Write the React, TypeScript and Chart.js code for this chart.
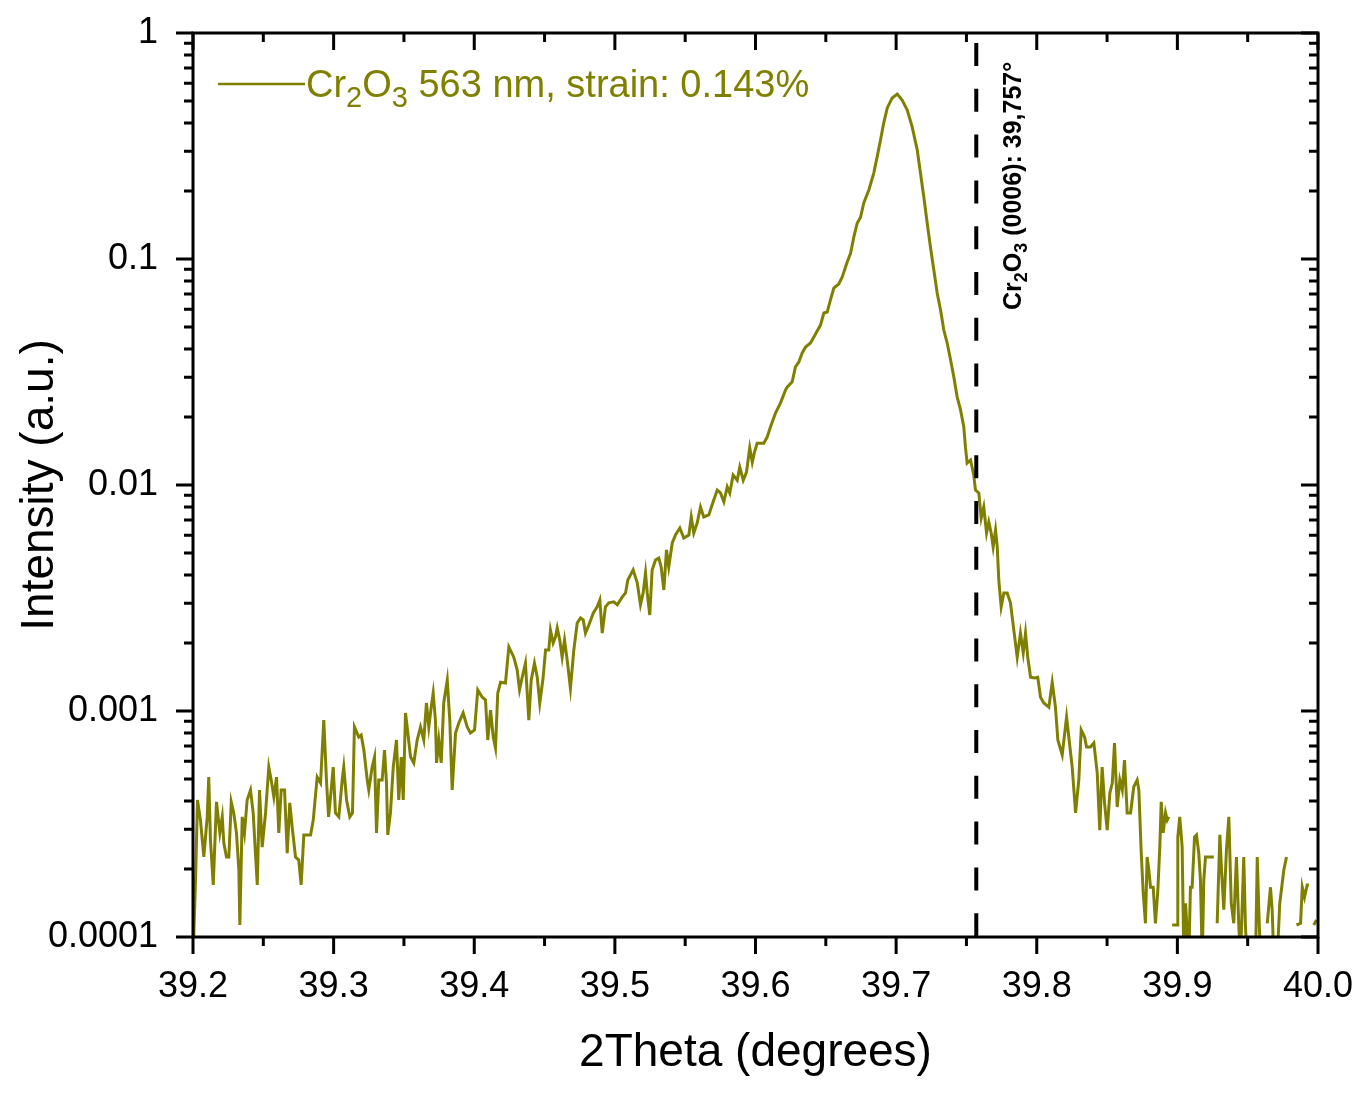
import React, { useEffect, useRef } from 'react';
import { Chart, registerables } from 'chart.js';

Chart.register(...registerables);

const FONT = '"Liberation Sans", Arial, sans-serif';
const OLIVE = '#808000';

// Axis ticks
const xTickValues = [39.2, 39.3, 39.4, 39.5, 39.6, 39.7, 39.8, 39.9, 40.0];
const xTickLabels = ['39.2', '39.3', '39.4', '39.5', '39.6', '39.7', '39.8', '39.9', '40.0'];
const yTickValues = [0.0001, 0.001, 0.01, 0.1, 1];
const yTickLabels = ['0.0001', '0.001', '0.01', '0.1', '1'];

// Titles / labels
const xTitle = '2Theta (degrees)';
const yTitle = 'Intensity (a.u.)';
const seriesRuns = [
  { t: 'Cr', sub: false },
  { t: '2', sub: true },
  { t: 'O', sub: false },
  { t: '3', sub: true },
  { t: ' 563 nm, strain: 0.143%', sub: false },
];
const referenceAngle = 39.757;
const referenceRuns = [
  { t: 'Cr', sub: false },
  { t: '2', sub: true },
  { t: 'O', sub: false },
  { t: '3', sub: true },
  { t: ' (0006): 39,757°', sub: false },
];

// Scan data: [2theta, intensity]; null = zero counts (gap on log axis)
const tailLeft: [number, number | null][] = [
  [39.2000, 9.0e-5], [39.2006, 1.04e-4], [39.2018, 1.79e-4], [39.2032, 4.04e-4], [39.2053, 3.29e-4],
  [39.2077, 2.26e-4], [39.2101, 3.40e-4], [39.2112, 5.10e-4], [39.2124, 2.69e-4], [39.2144, 1.70e-4],
  [39.2167, 3.96e-4], [39.2191, 2.89e-4], [39.2208, 3.40e-4], [39.2219, 2.61e-4], [39.2238, 2.26e-4],
  [39.2255, 2.26e-4], [39.2272, 3.96e-4], [39.2290, 3.54e-4], [39.2309, 2.89e-4], [39.2326, 1.98e-4],
  [39.2333, 1.13e-4], [39.2350, 3.40e-4], [39.2366, 2.89e-4], [39.2385, 4.04e-4], [39.2409, 4.47e-4],
  [39.2428, 3.54e-4], [39.2444, 2.35e-4], [39.2457, 1.70e-4], [39.2473, 4.47e-4], [39.2492, 2.50e-4],
  [39.2516, 3.54e-4], [39.2539, 5.65e-4], [39.2556, 4.95e-4], [39.2575, 4.16e-4], [39.2594, 5.10e-4],
  [39.2610, 2.89e-4], [39.2627, 4.47e-4], [39.2651, 4.47e-4], [39.2670, 2.35e-4], [39.2688, 3.92e-4],
  [39.2705, 3.07e-4], [39.2729, 2.26e-4], [39.2752, 2.19e-4], [39.2769, 1.70e-4], [39.2788, 2.83e-4],
  [39.2836, 2.83e-4], [39.2855, 3.29e-4], [39.2883, 5.10e-4], [39.2907, 4.80e-4], [39.2930, 9.12e-4],
  [39.2949, 4.95e-4], [39.2964, 3.40e-4], [39.2978, 4.16e-4], [39.2997, 5.65e-4], [39.3013, 3.54e-4],
  [39.3037, 3.40e-4], [39.3061, 4.95e-4], [39.3072, 5.65e-4], [39.3092, 4.04e-4], [39.3115, 3.40e-4],
  [39.3134, 3.54e-4], [39.3148, 8.50e-4], [39.3179, 7.67e-4], [39.3196, 7.83e-4], [39.3215, 6.72e-4],
  [39.3239, 4.95e-4], [39.3250, 4.47e-4], [39.3274, 5.65e-4], [39.3291, 6.26e-4], [39.3305, 2.89e-4],
  [39.3321, 4.95e-4], [39.3345, 4.95e-4], [39.3362, 6.72e-4], [39.3376, 4.80e-4], [39.3385, 2.83e-4],
  [39.3404, 3.54e-4], [39.3424, 5.65e-4], [39.3447, 7.44e-4], [39.3463, 4.04e-4], [39.3481, 6.26e-4],
  [39.3495, 4.04e-4], [39.3511, 9.80e-4],
];

const riseLow: [number, number | null][] = [
  [39.3523, 8.50e-4], [39.3547, 6.26e-4], [39.3570, 5.89e-4], [39.3594, 7.44e-4], [39.3618, 8.50e-4],
  [39.3641, 7.44e-4], [39.3660, 1.085e-3], [39.3677, 8.50e-4], [39.3694, 1.04e-3], [39.3708, 1.20e-3],
  [39.3724, 9.12e-4], [39.3732, 5.89e-4], [39.3748, 7.44e-4], [39.3765, 5.89e-4], [39.3783, 1.085e-3],
  [39.3808, 1.37e-3], [39.3826, 9.12e-4], [39.3843, 4.47e-4], [39.3867, 7.99e-4], [39.3890, 8.85e-4],
  [39.3921, 9.80e-4], [39.3950, 8.50e-4], [39.3973, 7.99e-4], [39.4002, 8.24e-4], [39.4025, 1.24e-3],
  [39.4057, 1.15e-3], [39.4080, 1.12e-3], [39.4096, 7.44e-4], [39.4116, 1.01e-3], [39.4135, 7.67e-4],
  [39.4151, 6.86e-4], [39.4167, 1.20e-3], [39.4187, 1.34e-3], [39.4222, 1.33e-3], [39.4246, 1.92e-3],
  [39.4281, 1.73e-3], [39.4305, 1.52e-3], [39.4322, 1.24e-3], [39.4341, 1.41e-3], [39.4364, 1.63e-3],
  [39.4388, 9.12e-4], [39.4405, 1.37e-3], [39.4428, 1.63e-3], [39.4448, 1.41e-3], [39.4466, 1.085e-3],
  [39.4490, 1.41e-3], [39.4507, 1.86e-3], [39.4530, 1.86e-3], [39.4542, 2.28e-3], [39.4561, 2.00e-3],
  [39.4578, 2.13e-3], [39.4590, 2.33e-3], [39.4608, 2.06e-3], [39.4625, 1.73e-3], [39.4642, 2.06e-3],
  [39.4661, 1.68e-3], [39.4684, 1.26e-3], [39.4708, 1.86e-3], [39.4732, 2.45e-3], [39.4756, 2.58e-3],
  [39.4775, 2.53e-3], [39.4791, 2.21e-3], [39.4815, 2.40e-3], [39.4846, 2.71e-3], [39.4874, 2.89e-3],
  [39.4893, 3.10e-3],
];

const riseHigh: [number, number | null][] = [
  [39.4910, 2.21e-3], [39.4933, 2.89e-3], [39.4957, 3.01e-3], [39.4992, 3.04e-3], [39.5017, 2.95e-3],
  [39.5052, 3.19e-3], [39.5076, 3.33e-3], [39.5092, 3.80e-3], [39.5130, 4.21e-3], [39.5159, 3.69e-3],
  [39.5182, 2.95e-3], [39.5201, 3.33e-3], [39.5218, 4.08e-3], [39.5230, 3.33e-3], [39.5248, 2.66e-3],
  [39.5265, 4.21e-3], [39.5289, 4.66e-3], [39.5312, 4.75e-3], [39.5329, 4.34e-3], [39.5348, 3.43e-3],
  [39.5367, 5.16e-3], [39.5383, 4.34e-3], [39.5408, 5.54e-3], [39.5431, 6.01e-3], [39.5462, 6.45e-3],
  [39.5490, 5.83e-3], [39.5526, 6.01e-3], [39.5543, 7.22e-3], [39.5561, 6.13e-3], [39.5585, 6.79e-3],
  [39.5609, 7.99e-3], [39.5632, 7.22e-3], [39.5668, 7.37e-3], [39.5703, 8.59e-3], [39.5728, 9.50e-3],
  [39.5751, 9.22e-3], [39.5775, 8.42e-3], [39.5799, 9.80e-3], [39.5817, 9.22e-3], [39.5841, 1.107e-2],
  [39.5870, 1.05e-2], [39.5888, 1.20e-2], [39.5913, 1.05e-2], [39.5936, 1.14e-2], [39.5959, 1.46e-2],
  [39.5977, 1.26e-2], [39.5993, 1.40e-2], [39.6012, 1.53e-2], [39.6059, 1.53e-2], [39.6083, 1.63e-2],
  [39.6107, 1.81e-2], [39.6142, 2.08e-2], [39.6178, 2.31e-2], [39.6213, 2.63e-2],
];

const peak: [number, number | null][] = [
  [39.6225, 2.71e-2], [39.6261, 2.86e-2], [39.6284, 3.33e-2], [39.6308, 3.50e-2], [39.6332, 3.84e-2],
  [39.6356, 4.08e-2], [39.6391, 4.25e-2], [39.6415, 4.52e-2], [39.6462, 5.10e-2], [39.6486, 5.77e-2],
  [39.6510, 5.83e-2], [39.6533, 6.59e-2], [39.6557, 7.44e-2], [39.6592, 7.75e-2], [39.6617, 8.33e-2],
  [39.6652, 9.70e-2], [39.6676, 0.106], [39.6699, 0.125], [39.6723, 0.144], [39.6747, 0.153],
  [39.6770, 0.177], [39.6806, 0.202], [39.6841, 0.240], [39.6865, 0.283], [39.6889, 0.336],
  [39.6912, 0.400], [39.6937, 0.466], [39.6972, 0.516], [39.7008, 0.537], [39.7043, 0.505],
  [39.7079, 0.456], [39.7114, 0.384], [39.7150, 0.304], [39.7173, 0.240], [39.7197, 0.188],
  [39.7221, 0.144], [39.7244, 0.113], [39.7268, 8.94e-2], [39.7292, 7.07e-2], [39.7316, 5.95e-2],
  [39.7339, 4.85e-2], [39.7363, 4.25e-2], [39.7387, 3.58e-2], [39.7410, 3.01e-2], [39.7434, 2.45e-2],
  [39.7458, 2.15e-2], [39.7481, 1.81e-2], [39.7493, 1.47e-2], [39.7505, 1.25e-2], [39.7529, 1.29e-2],
];

const tailRight: [number, number | null][] = [
  [39.7552, 1.107e-2], [39.7564, 9.50e-3], [39.7588, 9.22e-3], [39.7605, 7.14e-3], [39.7623, 7.99e-3],
  [39.7643, 6.13e-3], [39.7659, 6.86e-3], [39.7676, 6.13e-3], [39.7690, 5.32e-3], [39.7707, 6.32e-3],
  [39.7719, 5.32e-3], [39.7730, 3.80e-3], [39.7747, 2.89e-3], [39.7766, 3.33e-3], [39.7790, 3.33e-3],
  [39.7813, 3.01e-3], [39.7837, 2.28e-3], [39.7861, 1.73e-3], [39.7884, 2.21e-3], [39.7904, 1.81e-3],
  [39.7920, 2.21e-3], [39.7936, 1.73e-3], [39.7956, 1.41e-3], [39.7984, 1.40e-3], [39.8007, 1.41e-3],
  [39.8027, 1.15e-3], [39.8050, 1.085e-3], [39.8086, 1.04e-3], [39.8110, 1.34e-3], [39.8133, 1.04e-3],
  [39.8150, 7.44e-4], [39.8181, 6.39e-4], [39.8212, 9.41e-4], [39.8228, 7.67e-4], [39.8252, 5.65e-4],
  [39.8276, 3.54e-4], [39.8299, 4.95e-4], [39.8316, 8.24e-4], [39.8340, 7.67e-4], [39.8354, 6.93e-4],
  [39.8382, 6.93e-4], [39.8406, 7.22e-4], [39.8430, 5.32e-4], [39.8448, 2.97e-4], [39.8465, 5.65e-4],
  [39.8482, 3.92e-4], [39.8501, 2.97e-4], [39.8520, 4.34e-4], [39.8537, 4.80e-4], [39.8553, 7.22e-4],
  [39.8572, 3.76e-4], [39.8591, 4.95e-4], [39.8608, 4.47e-4], [39.8624, 6.07e-4], [39.8643, 3.54e-4],
  [39.8667, 3.54e-4], [39.8690, 4.62e-4], [39.8714, 4.95e-4], [39.8726, 4.47e-4],
];

const noiseFloor: [number, number | null][] = [
  [39.8743, 2.35e-4], [39.8757, 1.57e-4], [39.8773, 1.15e-4], [39.8785, 2.26e-4], [39.8797, 1.98e-4],
  [39.8809, 1.66e-4], [39.8828, 1.66e-4], [39.8844, 1.15e-4], [39.8861, 1.61e-4], [39.8875, 2.50e-4],
  [39.8885, 3.96e-4], [39.8899, 2.89e-4], [39.8916, 3.54e-4], [39.8928, 3.29e-4], [39.8939, 3.40e-4],
  [39.8955, null], [39.8963, 1.13e-4], [39.8999, 1.13e-4], [39.9003, 2.77e-4], [39.9017, 3.40e-4],
  [39.9034, 2.50e-4], [39.9046, 8.0e-5], [39.9058, 1.41e-4], [39.9081, 8.0e-5], [39.9093, 1.66e-4],
  [39.9105, 1.66e-4], [39.9122, 2.77e-4], [39.9136, 2.83e-4], [39.9152, 2.35e-4], [39.9164, 1.79e-4],
  [39.9177, 8.0e-5], [39.9188, 1.79e-4], [39.9200, 2.26e-4], [39.9259, 2.26e-4], [39.9275, null],
  [39.9283, 1.15e-4], [39.9302, 2.83e-4], [39.9314, 1.98e-4], [39.9330, 1.32e-4], [39.9349, 2.43e-4],
  [39.9366, 3.40e-4], [39.9383, 1.41e-4], [39.9401, 1.15e-4], [39.9420, 2.26e-4], [39.9437, 1.11e-4],
  [39.9449, 8.0e-5], [39.9472, 2.26e-4], [39.9484, 1.11e-4], [39.9497, 8.0e-5], [39.9520, null],
  [39.9556, 8.0e-5], [39.9568, 2.26e-4], [39.9579, 1.32e-4], [39.9591, 8.0e-5], [39.9610, null],
  [39.9639, 1.15e-4], [39.9662, 1.66e-4], [39.9674, 1.32e-4], [39.9686, 8.0e-5], [39.9695, null],
  [39.9710, 8.0e-5], [39.9728, 1.41e-4], [39.9757, 1.98e-4], [39.9776, 2.26e-4], [39.9800, null],
  [39.9847, 1.13e-4], [39.9876, 1.15e-4], [39.9888, 1.66e-4], [39.9904, 1.50e-4], [39.9923, 1.70e-4],
  [39.9935, 1.70e-4], [39.9950, null], [39.9970, 1.13e-4], [39.9989, 1.19e-4],
];

function drawRuns(ctx: CanvasRenderingContext2D, runs: { t: string; sub: boolean }[], x: number, y: number,
  mainFont: string, subFont: string, subShift: number) {
  let cx = x;
  for (const r of runs) {
    ctx.font = r.sub ? subFont : mainFont;
    ctx.fillText(r.t, cx, r.sub ? y + subShift : y);
    cx += ctx.measureText(r.t).width;
  }
}

const decorPlugin = {
  id: 'decor',
  afterDatasetsDraw(chart: any) {
    const { ctx, chartArea, scales } = chart;
    const { left, right, top, bottom } = chartArea;
    const xs = scales.x;
    const ys = scales.y;
    ctx.save();

    // reference dashed line
    const rx = xs.getPixelForValue(referenceAngle);
    ctx.strokeStyle = '#000';
    ctx.lineWidth = 4;
    ctx.setLineDash([23, 22.8]);
    ctx.beginPath();
    ctx.moveTo(rx, top + 10);
    ctx.lineTo(rx, bottom);
    ctx.stroke();
    ctx.setLineDash([]);

    // frame
    ctx.lineWidth = 3;
    ctx.lineCap = 'butt';
    ctx.strokeRect(left, top, right - left, bottom - top);

    // ticks
    ctx.beginPath();
    const majorLen = 17;
    const minorLen = 9;
    xTickValues.forEach((v, i) => {
      const px = xs.getPixelForValue(v);
      ctx.moveTo(px, bottom); ctx.lineTo(px, bottom + majorLen);
      ctx.moveTo(px, top); ctx.lineTo(px, top + majorLen);
      if (i < xTickValues.length - 1) {
        const mx = xs.getPixelForValue((v + xTickValues[i + 1]) / 2);
        ctx.moveTo(mx, bottom); ctx.lineTo(mx, bottom + minorLen);
        ctx.moveTo(mx, top); ctx.lineTo(mx, top + minorLen);
      }
    });
    yTickValues.forEach((v, i) => {
      const py = ys.getPixelForValue(v);
      ctx.moveTo(left - majorLen, py); ctx.lineTo(left, py);
      ctx.moveTo(right - majorLen, py); ctx.lineTo(right, py);
      if (i < yTickValues.length - 1) {
        for (let m = 2; m <= 9; m++) {
          const my = ys.getPixelForValue(m * v);
          ctx.moveTo(left - minorLen, my); ctx.lineTo(left, my);
          ctx.moveTo(right - minorLen, my); ctx.lineTo(right, my);
        }
      }
    });
    ctx.stroke();

    // legend
    ctx.strokeStyle = OLIVE;
    ctx.lineWidth = 2.5;
    ctx.beginPath();
    ctx.moveTo(left + 25, top + 51);
    ctx.lineTo(left + 112, top + 51);
    ctx.stroke();
    ctx.fillStyle = OLIVE;
    ctx.textAlign = 'left';
    ctx.textBaseline = 'alphabetic';
    drawRuns(ctx, seriesRuns, left + 113, top + 64, `38px ${FONT}`, `29px ${FONT}`, 10);

    // rotated reference label
    ctx.fillStyle = '#000';
    ctx.translate(rx + 45, top + 277);
    ctx.rotate(-Math.PI / 2);
    drawRuns(ctx, referenceRuns, 0, 0, `bold 25px ${FONT}`, `bold 18px ${FONT}`, 6);

    ctx.restore();
  },
};

export default function App() {
  const ref = useRef<HTMLCanvasElement>(null);
  useEffect(() => {
    const points = [...tailLeft, ...riseLow, ...riseHigh, ...peak, ...tailRight, ...noiseFloor]
      .map(([x, y]) => ({ x, y }));
    Chart.defaults.font.family = FONT;
    const chart = new Chart(ref.current as HTMLCanvasElement, {
      type: 'line',
      data: {
        datasets: [{
          data: points as any,
          borderColor: OLIVE,
          borderWidth: 3,
          pointRadius: 0,
          spanGaps: false,
          tension: 0,
          fill: false,
        }],
      },
      options: {
        animation: false,
        responsive: true,
        maintainAspectRatio: false,
        layout: { padding: { top: 33, right: 41, left: 0, bottom: 0 } },
        plugins: { legend: { display: false }, tooltip: { enabled: false } },
        scales: {
          x: {
            type: 'linear',
            min: 39.2,
            max: 40.0,
            grid: { display: false, drawTicks: false },
            border: { display: false },
            afterBuildTicks: (s: any) => { s.ticks = xTickValues.map((v) => ({ value: v })); },
            afterFit: (s: any) => {
              s.height = 162;
              s.paddingLeft = 0; s.paddingRight = 0; s.paddingTop = 0; s.paddingBottom = 0;
            },
            ticks: {
              callback: (_v: any, i: number) => xTickLabels[i],
              font: { size: 36 },
              color: '#000',
              padding: 28,
              maxRotation: 0,
              autoSkip: false,
            },
            title: {
              display: true,
              text: xTitle,
              font: { size: 46 },
              color: '#000',
              padding: { top: 0, bottom: 18 },
            },
          },
          y: {
            type: 'logarithmic',
            min: 1e-4,
            max: 1,
            grid: { display: false, drawTicks: false },
            border: { display: false },
            afterBuildTicks: (s: any) => { s.ticks = yTickValues.map((v) => ({ value: v })); },
            afterFit: (s: any) => {
              s.width = 193;
              s.paddingLeft = 0; s.paddingRight = 0; s.paddingTop = 0; s.paddingBottom = 0;
            },
            ticks: {
              callback: (_v: any, i: number) => yTickLabels[i],
              font: { size: 36 },
              color: '#000',
              padding: 35,
              autoSkip: false,
            },
            title: {
              display: true,
              text: yTitle,
              font: { size: 46 },
              color: '#000',
              padding: { top: 13, bottom: 0 },
            },
          },
        },
      },
      plugins: [decorPlugin],
    });
    return () => chart.destroy();
  }, []);
  return (
    <div style={{ position: 'fixed', left: 0, top: 0, width: 1359, height: 1099, background: '#fff' }}>
      <canvas ref={ref} />
    </div>
  );
}
